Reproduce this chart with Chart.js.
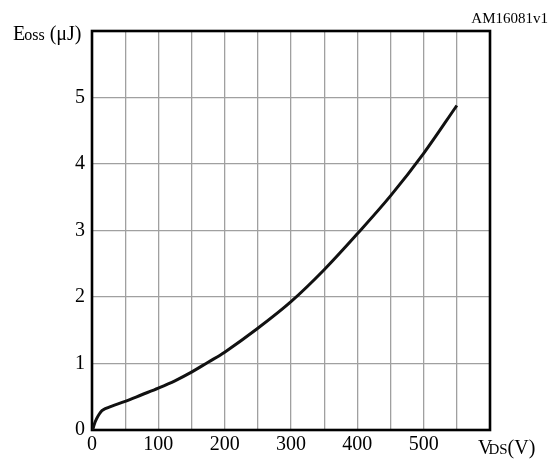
<!DOCTYPE html>
<html>
<head>
<meta charset="utf-8">
<script src="https://cdn.jsdelivr.net/npm/chart.js@4"></script>
<style>
html,body{margin:0;padding:0;background:#fff;}
#wrap{position:relative;width:559px;height:461px;}
canvas{display:block;}
</style>
</head>
<body>
<div id="wrap"><canvas id="c" width="559" height="461"></canvas></div>
<script>
const vdsValues = [1, 4, 7, 11, 15, 20, 30, 50, 75, 100, 125, 150, 175, 200, 250, 300, 350, 400, 450, 500, 550];
const eossValues = [0, 0.1, 0.17, 0.24, 0.29, 0.32, 0.36, 0.43, 0.53, 0.63, 0.74, 0.87, 1.02, 1.17, 1.53, 1.93, 2.41, 2.95, 3.52, 4.16, 4.88];
const xTickLabels = [0, 100, 200, 300, 400, 500];
const yTickLabels = [0, 1, 2, 3, 4, 5];
const chartId = 'AM16081v1';

const SERIF = '"Liberation Serif", "DejaVu Serif", serif';

const framePlugin = {
  id: 'frame',
  beforeDatasetsDraw(chart) {
    const {ctx, chartArea: a} = chart;
    ctx.save();
    ctx.strokeStyle = '#000';
    ctx.lineWidth = 2.6;
    ctx.strokeRect(a.left, a.top, a.right - a.left, a.bottom - a.top);
    ctx.restore();
  },
  afterDraw(chart) {
    const {ctx} = chart;
    ctx.save();
    ctx.fillStyle = '#000';
    ctx.textBaseline = 'alphabetic';
    // ID label
    ctx.font = '15px ' + SERIF;
    ctx.textAlign = 'right';
    ctx.fillText(chartId, 548, 23);
    // Y title: Eoss (μJ)
    ctx.textAlign = 'left';
    let x = 13, y = 40;
    ctx.font = '20px ' + SERIF;
    ctx.fillText('E', x, y); x += ctx.measureText('E').width - 1;
    ctx.font = '16px ' + SERIF;
    ctx.fillText('oss', x, y); x += ctx.measureText('oss').width;
    ctx.font = '20px ' + SERIF;
    ctx.fillText(' (\u03bcJ)', x, y);
    // X title: VDS(V)
    x = 478; y = 454;
    ctx.font = '20px ' + SERIF;
    ctx.fillText('V', x, y); x += ctx.measureText('V').width - 4;
    ctx.font = '15px ' + SERIF;
    ctx.fillText('DS', x, y); x += ctx.measureText('DS').width;
    ctx.font = '20px ' + SERIF;
    ctx.fillText('(V)', x, y);
    ctx.restore();
  }
};

new Chart(document.getElementById('c'), {
  type: 'line',
  data: {
    datasets: [{
      data: vdsValues.map((v, i) => ({x: v, y: eossValues[i]})),
      borderColor: '#111',
      borderWidth: 3,
      pointRadius: 0,
      fill: false,
      tension: 0.35
    }]
  },
  options: {
    responsive: false,
    animation: false,
    layout: {padding: {left: 0, right: 69, top: 31, bottom: 0}},
    plugins: {legend: {display: false}, tooltip: {enabled: false}},
    scales: {
      x: {
        type: 'linear',
        min: 0, max: 600,
        afterFit(s) { s.height = 31; },
        ticks: {
          stepSize: 50,
          autoSkip: false,
          maxRotation: 0,
          padding: 3,
          color: '#000',
          font: {family: SERIF, size: 20},
          callback: (v) => xTickLabels.includes(v) ? String(v) : ''
        },
        grid: {color: '#a0a0a0', lineWidth: 1.3, drawTicks: false},
        border: {display: false}
      },
      y: {
        type: 'linear',
        min: 0, max: 6,
        afterFit(s) { s.width = 92; },
        ticks: {
          stepSize: 1,
          padding: 7,
          color: '#000',
          font: {family: SERIF, size: 20},
          callback: (v) => yTickLabels.includes(v) ? String(v) : ''
        },
        grid: {color: '#a0a0a0', lineWidth: 1.3, drawTicks: false},
        border: {display: false}
      }
    }
  },
  plugins: [framePlugin]
});
</script>
</body>
</html>
